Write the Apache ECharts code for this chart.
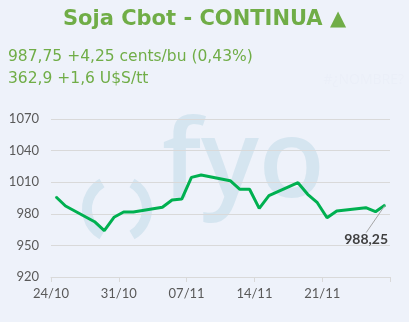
<!DOCTYPE html>
<html>
<head>
<meta charset="utf-8">
<script src="https://cdn.jsdelivr.net/npm/echarts@6/dist/echarts.min.js"></script>
<style>
html,body{margin:0;padding:0;background:#EEF2FA;}
#c{width:409px;height:322px;}
</style>
</head>
<body>
<div id="c"></div>
<script>
// ---- data ----
var year = 2024;
var dates = ['24/10','25/10','28/10','29/10','30/10','31/10','01/11','04/11','05/11','06/11','07/11','08/11',
             '11/11','12/11','13/11','14/11','15/11','18/11','19/11','20/11','21/11','22/11','25/11','26/11','27/11'];
var values = [996.2, 987.4, 972.5, 964.0, 976.7, 981.7, 981.7, 986.2, 993.1, 994.0, 1014.6, 1016.8,
              1011.4, 1003.3, 1003.3, 985.2, 997.2, 1009.5, 998.5, 990.5, 976.3, 982.7, 985.8, 982.0, 988.25];
var xTickLabels = ['24/10','31/10','07/11','14/11','21/11',''];
var yTicks = [920, 950, 980, 1010, 1040, 1070];
var titleText = 'Soja Cbot - CONTINUA \u25B2';
var infoLine1 = '987,75 +4,25 cents/bu (0,43%)';
var infoLine2 = '362,9 +1,6 U$S/tt';
var lastLabel = '988,25';

function parseD(s){ var p = s.split('/'); return new Date(year, +p[1]-1, +p[0]); }
var start = parseD(dates[0]);
var lastIdx = dates.length - 1;
var seriesData = dates.map(function(d,i){
  var day = Math.round((parseD(d) - start)/86400000);
  var item = {value:[day + 0.5, values[i]]};
  if (i === lastIdx) {
    item.label = {show:true, position:'bottom', distance:4, formatter: lastLabel,
      fontFamily:'Lato', fontWeight:'bold', fontSize:14, color:'#404040'};
  }
  return item;
});

var chart = echarts.init(document.getElementById('c'), null, {renderer:'canvas'});
chart.setOption({
  backgroundColor:'#EEF2FA',
  animation:false,
  title:{text:titleText, left:'center', top:4,
    textStyle:{fontFamily:'DejaVu Sans', fontWeight:'bold', fontSize:21, color:'#70AD47'}},
  graphic:[
    {type:'text', left:8, top:49, z:5, style:{text:infoLine1, font:'15.5px "DejaVu Sans"', fill:'#70AD47'}},
    {type:'text', left:8, top:71, z:5, style:{text:infoLine2, font:'15.5px "DejaVu Sans"', fill:'#70AD47'}},
    {type:'text', right:5, top:73, z:1, style:{text:'#\u00BFNOMBRE?', font:'14px "Open Sans"', fill:'#EBEFF8'}},
    {type:'text', z:-10, silent:true, x:162, y:112, style:{text:'fyo', font:'600 108px "Open Sans"', fill:'#D5E5F0'}},
    {type:'arc', z:-10, silent:true, shape:{cx:117, cy:209, r:30, startAngle:Math.PI*2/3, endAngle:Math.PI*4/3}, style:{stroke:'#D5E5F0', lineWidth:10, fill:null}},
    {type:'arc', z:-10, silent:true, shape:{cx:117, cy:209, r:30, startAngle:-Math.PI/3, endAngle:Math.PI/3}, style:{stroke:'#D5E5F0', lineWidth:10, fill:null}}
  ],
  grid:{left:51, right:19, top:119, bottom:45},
  xAxis:{type:'value', min:0, max:35, interval:7,
    axisLine:{show:true, lineStyle:{color:'#D9D9D9', width:1}},
    axisTick:{show:true, length:5, lineStyle:{color:'#D9D9D9'}},
    splitLine:{show:false},
    axisLabel:{margin:10, color:'#595959', fontFamily:'Lato', fontSize:13,
      formatter:function(v){ return xTickLabels[Math.round(v/7)] || ''; }}
  },
  yAxis:{type:'value', min:yTicks[0], max:yTicks[yTicks.length-1], interval:30,
    axisLine:{show:false}, axisTick:{show:false},
    splitLine:{lineStyle:{color:'#D9D9D9', width:1}},
    axisLabel:{margin:12, color:'#595959', fontFamily:'Lato', fontSize:13,
      formatter:function(v){ return String(v); }}
  },
  series:[{
    type:'line', data:seriesData, z:3,
    symbol:'circle', symbolSize:1, showSymbol:true,
    itemStyle:{color:'#00B050'},
    lineStyle:{color:'#00B050', width:3},
    label:{show:false},
    labelLine:{show:true, lineStyle:{color:'#A6A6A6', width:1}},
    labelLayout:function(p){
      if (p.dataIndex === lastIdx) return {dx:-19, dy:23};
      return {};
    }
  }]
});
</script>
</body>
</html>
